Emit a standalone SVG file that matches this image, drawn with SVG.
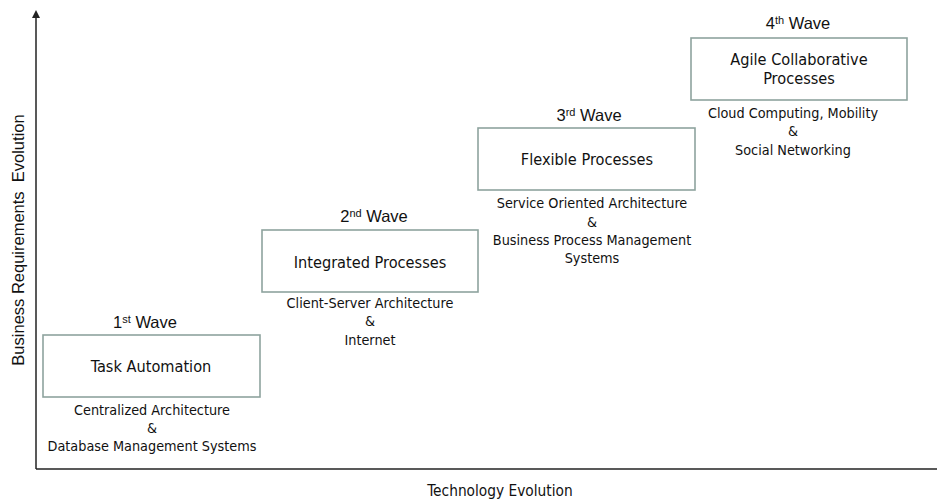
<svg xmlns="http://www.w3.org/2000/svg" width="937" height="500" viewBox="0 0 937 500">
<style>
.box{fill:#fff;stroke:#8ea39e;stroke-width:1.6}
.wave{font-family:"Liberation Sans",Arial,sans-serif;font-size:16.5px;fill:#111;text-anchor:middle}
.t{font-family:"DejaVu Sans Condensed","DejaVu Sans",sans-serif;font-size:16.2px;fill:#111;text-anchor:middle}
.s{font-family:"DejaVu Sans Condensed","DejaVu Sans",sans-serif;font-size:14.3px;fill:#111;text-anchor:middle}
.ax{stroke:#222;stroke-width:1.5;fill:none}
</style>
<defs>
<marker id="arr" markerWidth="8" markerHeight="8" refX="4" refY="4" orient="auto" markerUnits="userSpaceOnUse">
<path d="M0,8 L4,0 L8,8 Z" fill="#222" transform="rotate(90 4 4)"/>
</marker>
</defs>
<g id="axes">
<line class="ax" x1="36" y1="469" x2="36" y2="14" marker-end="url(#arr)"/>
<line class="ax" x1="36" y1="469" x2="937" y2="469"/>
<text class="wave" transform="translate(24 240) rotate(-90)" style="white-space:pre">Business Requirements  Evolution</text>
<text class="t" x="500" y="496" style="font-size:15.3px">Technology Evolution</text>
</g>
<g id="wave1">
<text class="wave" x="145" y="328">1<tspan font-size="11" dy="-5">st</tspan><tspan dy="5"> Wave</tspan></text>
<rect class="box" x="43" y="335" width="217" height="62"/>
<text class="t" x="151" y="372">Task Automation</text>
<text class="s" x="152" y="415">Centralized Architecture</text>
<text class="s" x="152" y="433">&amp;</text>
<text class="s" x="152" y="451">Database Management Systems</text>
</g>
<g id="wave2">
<text class="wave" x="374" y="222">2<tspan font-size="11" dy="-5">nd</tspan><tspan dy="5"> Wave</tspan></text>
<rect class="box" x="262" y="230" width="216" height="62"/>
<text class="t" x="370" y="268">Integrated Processes</text>
<text class="s" x="370" y="308">Client-Server Architecture</text>
<text class="s" x="370" y="326">&amp;</text>
<text class="s" x="370" y="345">Internet</text>
</g>
<g id="wave3">
<text class="wave" x="589" y="121">3<tspan font-size="11" dy="-5">rd</tspan><tspan dy="5"> Wave</tspan></text>
<rect class="box" x="478" y="128" width="217" height="62"/>
<text class="t" x="587" y="165">Flexible Processes</text>
<text class="s" x="592" y="208">Service Oriented Architecture</text>
<text class="s" x="592" y="227">&amp;</text>
<text class="s" x="592" y="245">Business Process Management</text>
<text class="s" x="592" y="263">Systems</text>
</g>
<g id="wave4">
<text class="wave" x="798" y="29">4<tspan font-size="11" dy="-5">th</tspan><tspan dy="5"> Wave</tspan></text>
<rect class="box" x="691" y="38" width="216" height="62"/>
<text class="t" x="799" y="65">Agile Collaborative</text>
<text class="t" x="799" y="84">Processes</text>
<text class="s" x="793" y="118">Cloud Computing, Mobility</text>
<text class="s" x="793" y="136">&amp;</text>
<text class="s" x="793" y="155">Social Networking</text>
</g>
</svg>
